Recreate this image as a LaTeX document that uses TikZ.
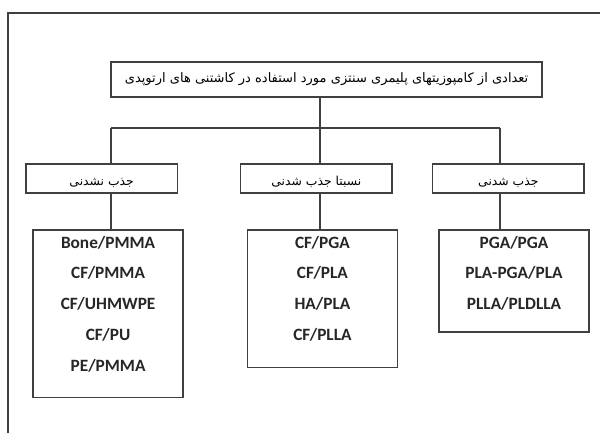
\documentclass[tikz,border=0pt]{standalone}
\usepackage{fontspec}
\setmainfont{Carlito}
\newfontfamily\persianfont[Script=Arabic]{DejaVu Sans}
\TeXXeTstate=1
\usetikzlibrary{positioning}

\tikzset{
  box/.style={draw=black!75, line width=1.1pt, inner sep=0pt},
  headbox/.style={box, minimum width=114mm, minimum height=9.3mm, font=\persianfont\fontsize{9.8}{11}\selectfont},
  groupbox/.style={box, minimum width=40mm, minimum height=7.7mm, text height=10pt, text depth=0pt, font=\persianfont\fontsize{9.3}{11}\selectfont},
  listbox/.style={box, minimum width=39.7mm, anchor=north},
  listtext/.style={anchor=north, inner sep=0pt, align=center, text=black!85, font=\bfseries\fontsize{13}{23.25}\selectfont},
  link/.style={draw=black!75, line width=1.1pt}
}

\begin{document}
\begin{tikzpicture}
    \useasboundingbox (0,0) rectangle (158.75mm,-114.56mm);
    \draw[link] (2.1mm,-114.56mm) |- (158.75mm,-3.4mm);

    \node[headbox] (head) at (86.4mm,-21.0mm) {\beginR تعدادی از کامپوزیتهای پلیمری سنتزی مورد استفاده در کاشتنی های ارتوپدی\endR};

    \coordinate (busleft) at (29.4mm,-33.9mm);
    \coordinate (busmid) at (84.7mm,-33.9mm);
    \coordinate (busright) at (132.3mm,-33.9mm);

    \node[groupbox] (nonabs) at (26.9mm,-47.2mm) {\beginR جذب نشدنی\endR};
    \node[groupbox] (partabs) at (83.7mm,-47.2mm) {\beginR نسبتا جذب شدنی\endR};
    \node[groupbox] (abs) at (134.5mm,-47.2mm) {\beginR جذب شدنی\endR};

    \node[listbox, minimum height=44.4mm] (nonlist) at (28.6mm,-60.6mm) {};
    \node[listtext, yshift=-5pt] (nontext) at (nonlist.north) {Bone/PMMA\\CF/PMMA\\CF/UHMWPE\\CF/PU\\PE/PMMA};
    \node[listbox, minimum height=36.5mm] (partlist) at (85.3mm,-60.6mm) {};
    \node[listtext, yshift=-5pt] (parttext) at (partlist.north) {CF/PGA\\CF/PLA\\HA/PLA\\CF/PLLA};
    \node[listbox, minimum height=27.0mm] (abslist) at (136.0mm,-60.6mm) {};
    \node[listtext, yshift=-5pt] (abstext) at (abslist.north) {PGA/PGA\\PLA-PGA/PLA\\PLLA/PLDLLA};

    \draw[link] (head.south -| busmid) -- (busmid);
    \draw[link] (busleft) -- (busright);
    \draw[link] (busleft) -- (busleft |- nonabs.north);
    \draw[link] (busmid) -- (busmid |- partabs.north);
    \draw[link] (busright) -- (busright |- abs.north);
    \draw[link] (busleft |- nonabs.south) -- (busleft |- nonlist.north);
    \draw[link] (busmid |- partabs.south) -- (busmid |- partlist.north);
    \draw[link] (busright |- abs.south) -- (busright |- abslist.north);
\end{tikzpicture}
\end{document}
